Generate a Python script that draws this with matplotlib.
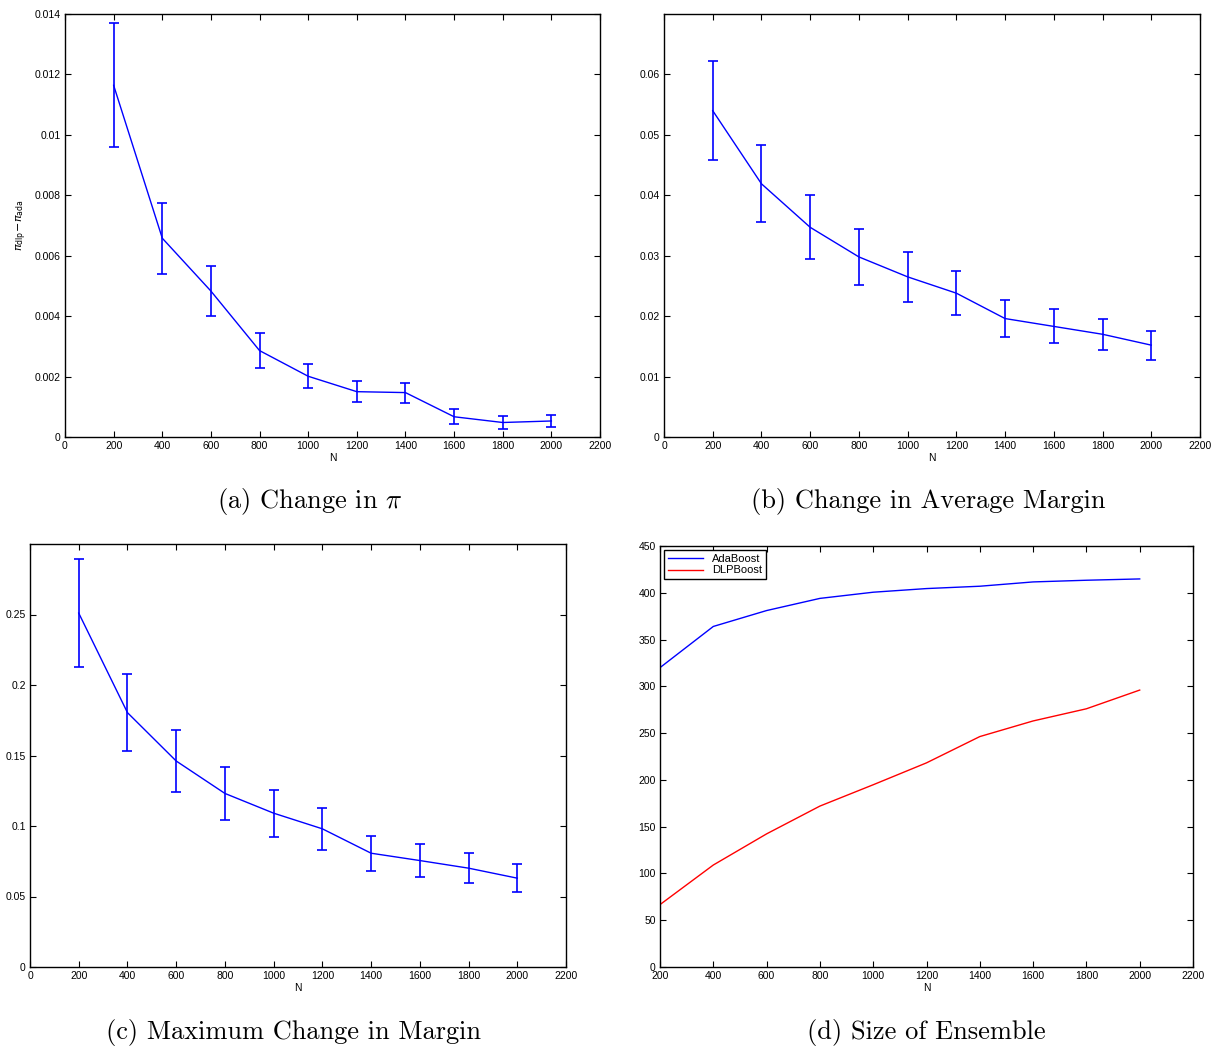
import numpy as np
import matplotlib
matplotlib.use("Agg")
import matplotlib.pyplot as plt
from matplotlib.ticker import FuncFormatter

# data
n_vals = [200, 400, 600, 800, 1000, 1200, 1400, 1600, 1800, 2000]

pi_mean = [0.01164, 0.00658, 0.00483, 0.00286, 0.00201, 0.00150, 0.00147, 0.00067, 0.00048, 0.00053]
pi_err = [0.00205, 0.00117, 0.00084, 0.00058, 0.00040, 0.00034, 0.00033, 0.00025, 0.00020, 0.00021]

avg_mean = [0.0540, 0.0419, 0.0347, 0.0298, 0.0265, 0.0238, 0.0196, 0.0183, 0.0170, 0.0152]
avg_err = [0.0082, 0.0064, 0.0053, 0.0046, 0.0041, 0.0036, 0.0030, 0.0028, 0.0026, 0.0024]

max_mean = [0.251, 0.1804, 0.1461, 0.1231, 0.1091, 0.0980, 0.0807, 0.0755, 0.0701, 0.0630]
max_err = [0.0381, 0.0274, 0.0223, 0.0186, 0.0167, 0.0149, 0.0125, 0.0115, 0.0106, 0.0097]

ada_size = [320, 364, 381, 394, 400.6, 404.5, 407, 411.6, 413.4, 414.8]
dlp_size = [66.7, 109, 142.3, 172, 194.8, 218.2, 246.3, 263, 276, 296]

captions = [r"(a) Change in $\pi$", "(b) Change in Average Margin",
            "(c) Maximum Change in Margin", "(d) Size of Ensemble"]

W, H = 1215, 1048
fig = plt.figure(figsize=(W / 100, H / 100), dpi=100)
plt.rcParams["font.family"] = ["Liberation Sans", "DejaVu Sans"]


def px_axes(l, t, r, b):
    return fig.add_axes([l / W, 1 - b / H, (r - l) / W, (b - t) / H])


def style(ax):
    ax.tick_params(direction="in", length=4, width=0.8, labelsize=7.5,
                   top=True, right=True, pad=3)
    for s in ax.spines.values():
        s.set_linewidth(1.0)
    ax.xaxis.set_major_formatter(FuncFormatter(lambda v, p: "%g" % v))
    ax.yaxis.set_major_formatter(FuncFormatter(lambda v, p: "%g" % v))
    ax.set_xlabel("N", fontsize=7.5, labelpad=1)


def err_plot(ax, mean, err):
    ax.errorbar(n_vals, mean, yerr=err, color="b", lw=1, elinewidth=1.2,
                capsize=3.5, capthick=1.2)
    ax.set_xlim(0, 2200)
    ax.set_xticks(np.arange(0, 2201, 200))


ax1 = px_axes(65, 14, 600, 437)
err_plot(ax1, pi_mean, pi_err)
ax1.set_ylim(0, 0.014)
ax1.set_yticks(np.arange(0, 0.0141, 0.002))
style(ax1)
ax1.set_ylabel(r"$\pi_{\mathrm{dlp}}\!-\!\pi_{\mathrm{ada}}$", fontsize=8, labelpad=4)

ax2 = px_axes(664, 14, 1200, 437)
err_plot(ax2, avg_mean, avg_err)
ax2.set_ylim(0, 0.07)
ax2.set_yticks(np.arange(0, 0.061, 0.01))
style(ax2)

ax3 = px_axes(30, 544, 566, 967)
err_plot(ax3, max_mean, max_err)
ax3.set_ylim(0, 0.3)
ax3.set_yticks(np.arange(0, 0.251, 0.05))
style(ax3)

ax4 = px_axes(660, 546, 1193, 967)
ax4.plot(n_vals, ada_size, color="b", lw=1, label="AdaBoost")
ax4.plot(n_vals, dlp_size, color="r", lw=1, label="DLPBoost")
ax4.set_xlim(200, 2200)
ax4.set_xticks(np.arange(200, 2201, 200))
ax4.set_ylim(0, 450)
ax4.set_yticks(np.arange(0, 451, 50))
style(ax4)
leg = ax4.legend(loc="upper left", fontsize=8, fancybox=False, framealpha=1,
                 edgecolor="black", borderaxespad=0.4, handlelength=3.2,
                 borderpad=0.3, labelspacing=0.15)
leg.get_frame().set_linewidth(1.0)

cap_pos = [(310, 502), (928, 502), (294, 1032), (926, 1032)]
for txt, (cx, cy) in zip(captions, cap_pos):
    fig.text(cx / W, 1 - cy / H, txt, ha="center", va="center", fontsize=19,
             family="cmr10", math_fontfamily="cm")

fig.savefig("out.png", dpi=100)
